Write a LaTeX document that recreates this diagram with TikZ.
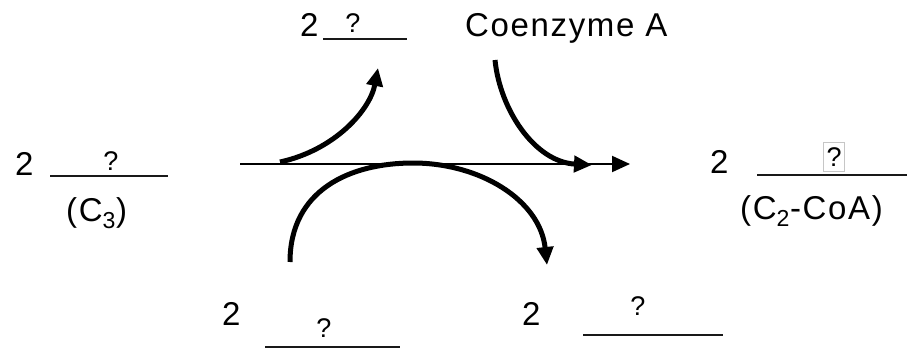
\documentclass[tikz,border=0pt]{standalone}
\usepackage{fontspec}
\setmainfont{Liberation Sans}[LetterSpace=5]
\usetikzlibrary{arrows.meta}

\begin{document}
\begin{tikzpicture}[x=1pt,y=-1pt,
    >={Triangle[length=18pt,width=16pt]},
    txt/.style={anchor=base west,inner sep=0pt,font=\fontsize{33}{40}\selectfont},
    qmark/.style={anchor=base,inner sep=0pt,font=\fontsize{27}{32}\selectfont},
    blank/.style={line width=2.2pt,gray!20!black},
    thinarrow/.style={->,line width=2pt},
    thickarrow/.style={->,line width=5pt}]
  \useasboundingbox (0,0) rectangle (916,353);
  % reactant
  \node[txt] (pyr2) at (15,175) {2};
  \node[qmark] (pyrq) at (111,170) {?};
  \draw[blank] (50,176) -- (168,176);
  \node[txt] (pyrc) at (66,221) {(C\textsubscript{3})};
  % product
  \node[txt] (acc2) at (710,173) {2};
  \node[qmark,anchor=center,draw=gray!45,line width=1pt,minimum width=21pt,minimum height=29pt] (accq) at (834,157) {?};
  \draw[blank] (757,175) -- (907,175);
  \node[txt] (accc) at (740,219) {(C\textsubscript{2}-CoA)};
  % top
  \node[txt] (co2) at (300,37) {2};
  \node[qmark] (coq) at (353,33) {?};
  \draw[blank] (323,39) -- (407,39);
  \node[txt] (coa) at (465,37) {Coenzyme A};
  % bottom
  \node[txt] (nad2) at (222,325) {2};
  \node[qmark] (nadq) at (324,337) {?};
  \draw[blank] (265,347) -- (400,347);
  \node[txt] (nadh2) at (522,325) {2};
  \node[qmark] (nadhq) at (638,315) {?};
  \draw[blank] (583,335) -- (723,335);
  % arrows
  \coordinate (main in) at (240,164);
  \coordinate (main out) at (630,164);
  \coordinate (co out) at (280,162);
  \coordinate (co tip) at (378,68);
  \coordinate (coa in) at (495,60);
  \coordinate (coa tip) at (592,165);
  \coordinate (nad in) at (290,262);
  \coordinate (nad top) at (413,163);
  \coordinate (nad tip) at (547,265);
  \draw[thinarrow] (main in) -- (main out);
  \draw[thickarrow] (co out) .. controls (335,150) and (370,110) .. (co tip);
  \draw[thickarrow] (coa in) .. controls (500,110) and (535,162) .. (coa tip);
  \draw[thickarrow] (nad in) .. controls (290,190) and (350,163) .. (nad top)
    .. controls (480,163) and (540,200) .. (nad tip);
\end{tikzpicture}
\end{document}
